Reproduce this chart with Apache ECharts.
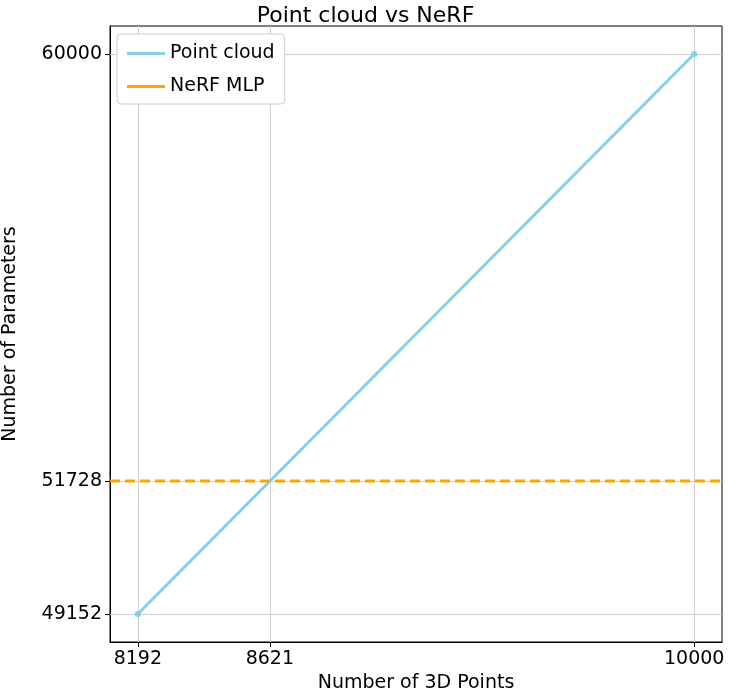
<!DOCTYPE html>
<html>
<head>
<meta charset="utf-8">
<script src="https://cdn.jsdelivr.net/npm/echarts@6/dist/echarts.min.js"></script>
</head>
<body style="margin:0">
<div id="main" style="width:731px;height:696px;"></div>
<script>
var xTicks = [8192, 8621, 10000];
var yTicks = [49152, 51728, 60000];
var pointCloud = [[8192, 49152], [10000, 60000]];
var nerfValue = 51728;

var xMin = 8192 - 0.05 * (10000 - 8192), xMax = 10000 + 0.05 * (10000 - 8192);
var yMin = 49152 - 0.05 * (60000 - 49152), yMax = 60000 + 0.05 * (60000 - 49152);

var chart = echarts.init(document.getElementById('main'));
var gridLines = xTicks.map(function (v) { return { xAxis: v }; })
  .concat(yTicks.map(function (v) { return { yAxis: v }; }));
var font = 'DejaVu Sans';
function plain(v) { return String(Math.round(v)); }
chart.setOption({
  animation: false,
  title: { text: 'Point cloud vs NeRF', left: 'center', top: 0,
    textStyle: { fontFamily: font, fontSize: 22, fontWeight: 'normal', color: '#000' } },
  legend: {
    left: 117, top: 34, orient: 'vertical', itemWidth: 38, itemHeight: 3, itemGap: 14, z: 20,
    padding: [10, 10, 8, 10], borderColor: '#ccc', borderWidth: 1, borderRadius: 4,
    backgroundColor: '#fff',
    textStyle: { fontFamily: font, fontSize: 19, color: '#000' },
    data: [{ name: 'Point cloud', icon: 'rect' }, { name: 'NeRF MLP', icon: 'rect' }]
  },
  grid: { left: 110, right: 9, top: 26, bottom: 54, outerBoundsMode: 'none',
    show: true, borderColor: '#000', borderWidth: 1 },
  xAxis: {
    type: 'value', min: xMin, max: xMax,
    name: 'Number of 3D Points', nameLocation: 'middle', nameGap: 32,
    nameTextStyle: { fontFamily: font, fontSize: 19, color: '#000' },
    axisLine: { show: true, onZero: false, lineStyle: { color: '#000' } },
    axisTick: { show: true, customValues: xTicks, length: 5, lineStyle: { color: '#000' } },
    axisLabel: { customValues: xTicks, formatter: plain, fontFamily: font, fontSize: 19, color: '#000', margin: 8 },
    splitLine: { show: false }
  },
  yAxis: {
    type: 'value', min: yMin, max: yMax,
    name: 'Number of Parameters', nameLocation: 'middle', nameGap: 90,
    nameTextStyle: { fontFamily: font, fontSize: 19, color: '#000' },
    axisLine: { show: true, onZero: false, lineStyle: { color: '#000' } },
    axisTick: { show: true, customValues: yTicks, length: 5, lineStyle: { color: '#000' } },
    axisLabel: { customValues: yTicks, formatter: plain, fontFamily: font, fontSize: 19, color: '#000', margin: 8 },
    splitLine: { show: false }
  },
  series: [
    {
      name: 'grid', type: 'line', data: [], silent: true, z: 1,
      markLine: { silent: true, symbol: 'none', label: { show: false }, z: 1,
        lineStyle: { color: '#cfcfcf', width: 1, type: 'solid' }, data: gridLines }
    },
    {
      name: 'Point cloud', type: 'line', data: pointCloud, color: '#87ceeb',
      symbol: 'circle', symbolSize: 6, lineStyle: { width: 3 }, z: 3
    },
    {
      name: 'NeRF MLP', type: 'line', data: [[xMin, nerfValue], [xMax, nerfValue]],
      color: '#ffa500', showSymbol: false, lineStyle: { width: 3, type: [10, 5] }, z: 4
    }
  ]
});
</script>
</body>
</html>
